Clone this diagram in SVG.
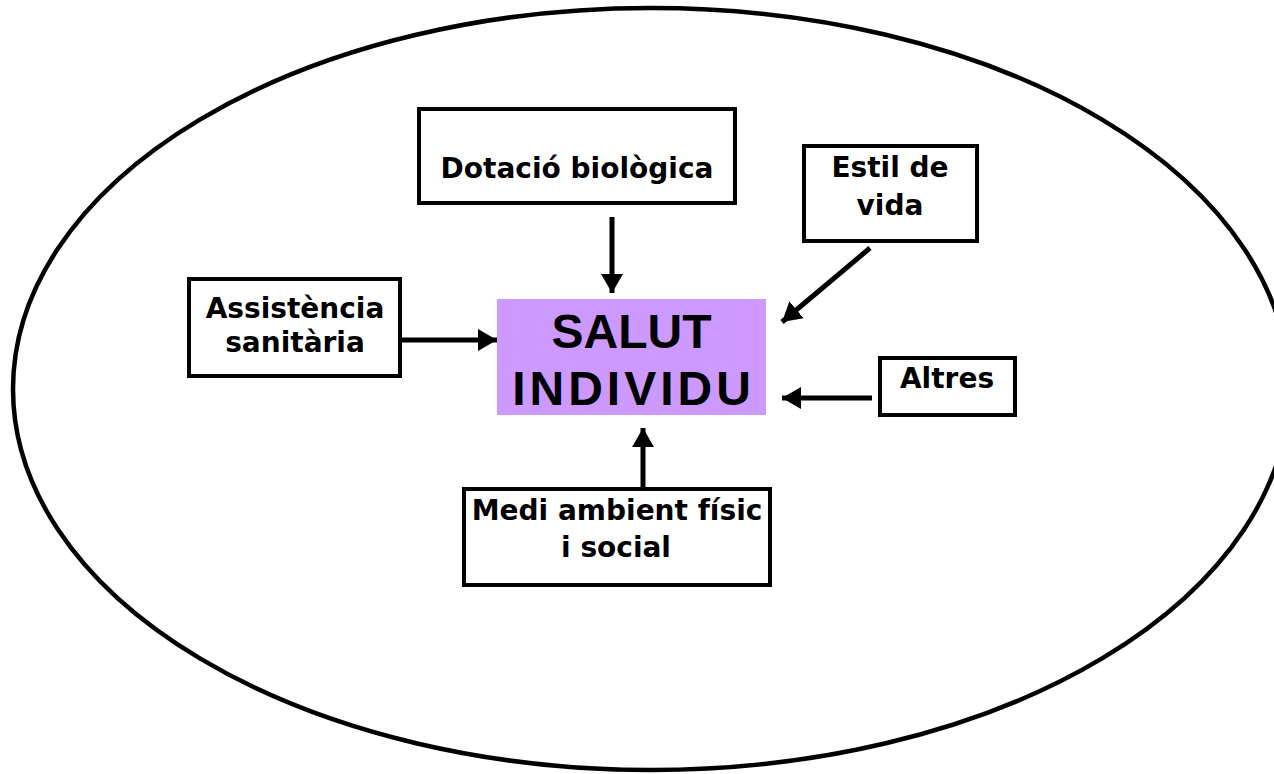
<svg xmlns="http://www.w3.org/2000/svg" width="1274" height="774" viewBox="0 0 1274 774">
  <style>
    .box { fill: #ffffff; stroke: #000000; stroke-width: 4; }
    .lbl { font-family: "DejaVu Sans", "Liberation Sans", sans-serif; font-weight: bold; font-size: 28px; fill: #000000; text-anchor: middle; }
    .big { font-family: "Liberation Sans", Arial, sans-serif; font-weight: bold; font-size: 48px; fill: #000000; text-anchor: middle; }
    .conn { stroke: #000000; stroke-width: 5; fill: none; marker-end: url(#arrow); }
  </style>
  <defs>
    <marker id="arrow" markerUnits="userSpaceOnUse" markerWidth="22" markerHeight="24" refX="19" refY="12" orient="auto">
      <polygon points="0,1 19,12 0,23" fill="#000000"/>
    </marker>
  </defs>
  <rect width="1274" height="774" fill="#ffffff"/>
  <ellipse id="outer" cx="651" cy="389" rx="638" ry="381" fill="none" stroke="#000000" stroke-width="4.5"/>

  <g id="salut">
    <rect x="497" y="299" width="269" height="116" fill="#CC99FF"/>
    <text class="big" x="631.5" y="348">SALUT</text>
    <text class="big" x="633.5" y="405" letter-spacing="4">INDIVIDU</text>
  </g>

  <g id="dotacio">
    <rect class="box" x="419" y="109" width="316" height="94"/>
    <text class="lbl" x="577" y="178">Dotació biològica</text>
  </g>

  <g id="estil">
    <rect class="box" x="804" y="146" width="173" height="95"/>
    <text class="lbl" x="890" y="177">Estil de</text>
    <text class="lbl" x="890" y="215">vida</text>
  </g>

  <g id="assistencia">
    <rect class="box" x="189" y="279" width="211" height="97"/>
    <text class="lbl" x="295" y="318">Assistència</text>
    <text class="lbl" x="295" y="352">sanitària</text>
  </g>

  <g id="altres">
    <rect class="box" x="880" y="358" width="135" height="57"/>
    <text class="lbl" x="947" y="388">Altres</text>
  </g>

  <g id="medi">
    <rect class="box" x="464" y="489" width="306" height="96"/>
    <text class="lbl" x="617" y="520">Medi ambient físic</text>
    <text class="lbl" x="616" y="557">i social</text>
  </g>

  <g id="connectors">
    <line class="conn" x1="612" y1="217" x2="612" y2="293"/>
    <line class="conn" x1="402" y1="340" x2="497" y2="340"/>
    <line class="conn" x1="870" y1="248" x2="782" y2="322"/>
    <line class="conn" x1="872" y1="398" x2="782" y2="398"/>
    <line class="conn" x1="643" y1="487" x2="643" y2="428"/>
  </g>
</svg>
